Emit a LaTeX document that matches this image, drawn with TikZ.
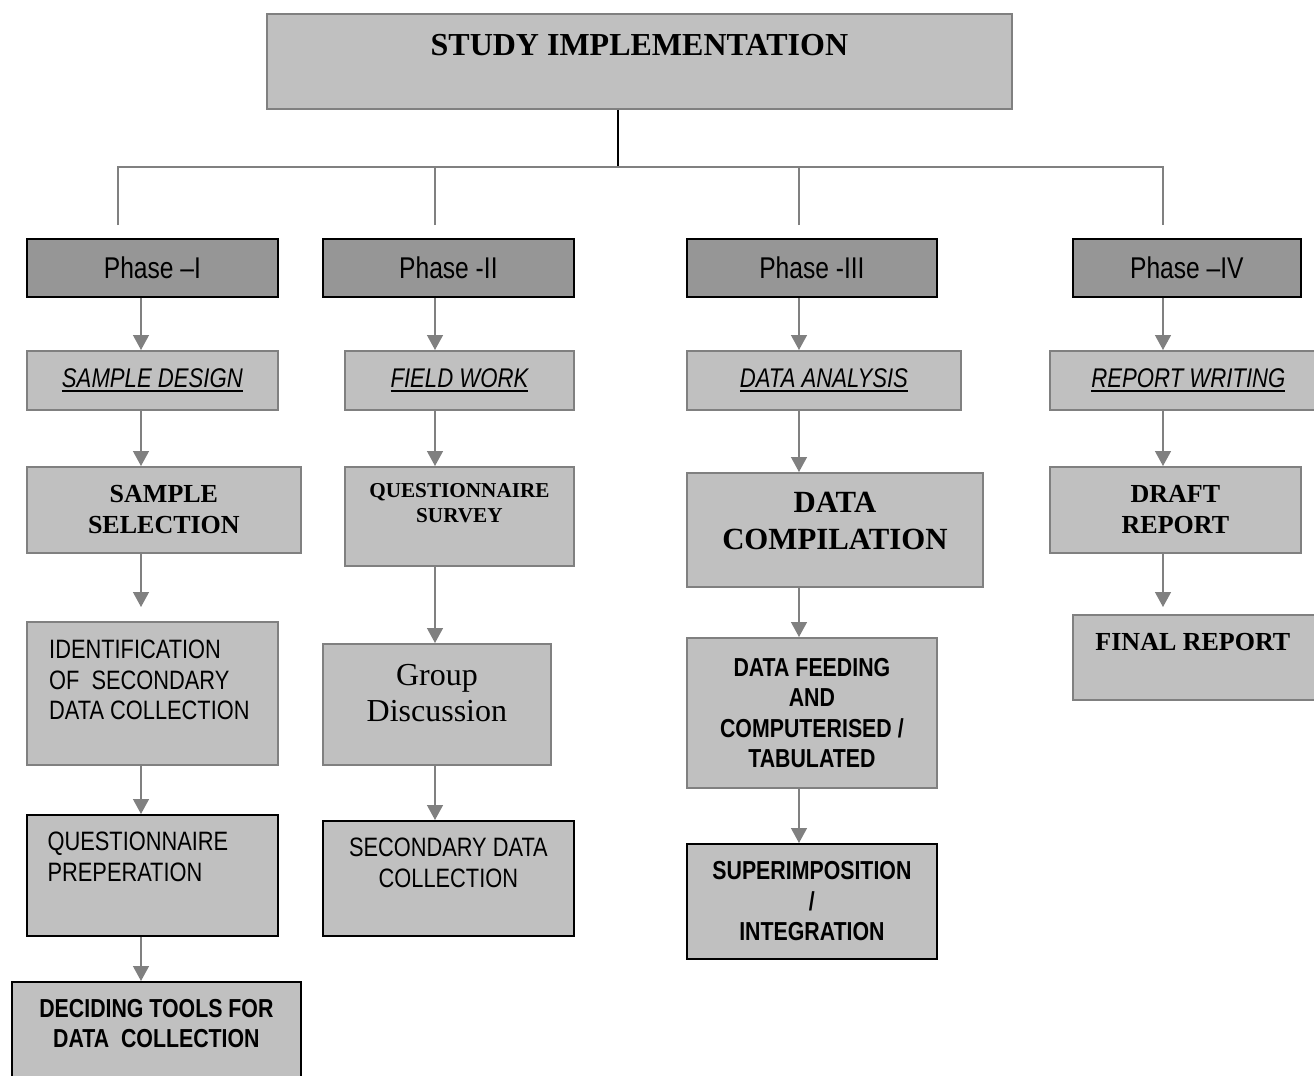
\documentclass[tikz,border=0pt]{standalone}
\usepackage{fontspec}
\setmainfont{Liberation Serif}
\newfontfamily\narrowsans{Liberation Sans}[FakeStretch=0.82]
\usepackage{tikz}
\usetikzlibrary{arrows.meta}
\usepackage{xcolor}
\definecolor{boxgrey}{HTML}{C0C0C0}
\definecolor{phasegrey}{HTML}{969696}
\definecolor{linegrey}{HTML}{808080}
% thick underline for the headings
\newcommand{\ulhead}[1]{\setbox0\hbox{#1}\vtop{\copy0\kern1.3pt\hrule height 1.2pt width \wd0}}

\begin{document}
\begin{tikzpicture}[
  x=0.5pt, y=-0.5pt,
  box/.style={draw=linegrey, line width=0.9pt, fill=boxgrey, inner sep=0pt, anchor=north west},
  darkbox/.style={box, draw=black},
  phasebox/.style={box, draw=black, fill=phasegrey, minimum height=29pt, font=\narrowsans\fontsize{15}{18}\selectfont},
  headbox/.style={box, minimum height=29.5pt, font=\narrowsans\itshape\fontsize{13.5}{16}\selectfont},
  titletxt/.style={font=\bfseries\fontsize{16}{19}\selectfont},
  boldserif/.style={font=\bfseries\fontsize{13}{15.5}\selectfont, align=center},
  smallserif/.style={font=\bfseries\fontsize{10.6}{12.5}\selectfont, align=center},
  bigserif/.style={font=\bfseries\fontsize{15.4}{18.5}\selectfont, align=center},
  plainserif/.style={font=\fontsize{16}{18}\selectfont, align=center},
  sanstxt/.style={font=\narrowsans\fontsize{13.3}{15.25}\selectfont, align=center},
  sansbold/.style={font=\narrowsans\bfseries\fontsize{13}{15.2}\selectfont, align=center},
  arr/.style={-{Triangle[length=7.5pt, width=8pt]}, draw=linegrey, line width=0.7pt},
  tree/.style={draw=linegrey, line width=0.7pt},
  stem/.style={draw=black, line width=0.7pt}
]
\useasboundingbox (0,0) rectangle (1314,1076);

% top box
\node[box, minimum width=372.5pt, minimum height=47.5pt,
  label={[titletxt, yshift=8.25pt]center:STUDY IMPLEMENTATION}] (title) at (266,13) {};

% phases
\node[phasebox, minimum width=125.5pt] (ph1) at (26,238) {Phase –I};
\node[phasebox, minimum width=125.5pt] (ph2) at (322,238) {Phase -II};
\node[phasebox, minimum width=125pt] (ph3) at (686,238) {Phase -III};
\node[phasebox, minimum width=114pt] (ph4) at (1072,238) {Phase –IV};

% headings
\node[headbox, minimum width=125.5pt] (sd) at (26,350) {\ulhead{SAMPLE DESIGN}};
\node[headbox, minimum width=114.5pt] (fw) at (344,350) {\ulhead{FIELD WORK}};
\node[headbox, minimum width=137pt] (da) at (686,350) {\ulhead{DATA ANALYSIS}};
\node[headbox, minimum width=138.5pt] (rw) at (1049,350) {\ulhead{REPORT WRITING}};

% third row
\node[box, boldserif, minimum width=137pt, minimum height=43pt] (ss) at (26,466) {SAMPLE\\SELECTION};
\node[box, minimum width=114.5pt, minimum height=49.5pt,
  label={[smallserif, yshift=6.5pt]center:{QUESTIONNAIRE\\SURVEY}}] (qs) at (344,466) {};
\node[box, minimum width=148pt, minimum height=57pt,
  label={[bigserif, yshift=4.5pt]center:{DATA\\COMPILATION}}] (dc) at (686,472) {};
\node[box, boldserif, minimum width=125.5pt, minimum height=43pt] (dr) at (1049,466) {DRAFT\\REPORT};

% fourth row
\node[box, minimum width=125.5pt, minimum height=71.5pt,
  label={[sanstxt, align=left, xshift=-1.5pt, yshift=6.75pt]center:{IDENTIFICATION\\OF\ \ SECONDARY\\DATA COLLECTION}}] (id) at (26,621) {};
\node[box, minimum width=114pt, minimum height=60.5pt,
  label={[plainserif, yshift=5.5pt]center:{Group\\Discussion}}] (gd) at (322,643) {};
\node[box, sansbold, minimum width=125pt, minimum height=75pt] (df) at (686,637) {DATA FEEDING\\AND\\COMPUTERISED /\\TABULATED};
\node[box, minimum width=123pt, minimum height=42.5pt,
  label={[boldserif, xshift=-1.5pt, yshift=7.5pt]center:FINAL REPORT}] (fr) at (1072,614) {};

% fifth row
\node[darkbox, minimum width=125.5pt, minimum height=60.5pt,
  label={[sanstxt, align=left, xshift=-7.25pt, yshift=9.25pt]center:{QUESTIONNAIRE\\PREPERATION}}] (qp) at (26,814) {};
\node[darkbox, minimum width=125.5pt, minimum height=57.5pt,
  label={[sanstxt, yshift=7.75pt]center:{SECONDARY DATA\\COLLECTION}}] (sc) at (322,820) {};
\node[darkbox, sansbold, minimum width=125pt, minimum height=57.5pt] (si) at (686,843) {SUPERIMPOSITION\\/\\INTEGRATION};

% last box
\node[darkbox, minimum width=144.5pt, minimum height=55pt,
  label={[sansbold, yshift=6.75pt]center:{DECIDING TOOLS FOR\\DATA\ \ COLLECTION}}] (dt) at (11,981) {};

% tree from the top box
\coordinate (hub) at (618,167);
\coordinate (dropA) at (118,225);
\coordinate (dropB) at (435,225);
\coordinate (dropC) at (799,225);
\coordinate (dropD) at (1163,225);
\draw[stem] (title.south -| hub) -- (hub);
\draw[tree] (dropA) |- (hub) -| (dropD);
\draw[tree] (dropB) -- (dropB |- hub);
\draw[tree] (dropC) -- (dropC |- hub);

% columns of arrows
\coordinate (colA) at (141,0);
\coordinate (colB) at (435,0);
\coordinate (colC) at (799,0);
\coordinate (colD) at (1163,0);

\draw[arr] (ph1.south -| colA) -- (sd.north -| colA);
\draw[arr] (sd.south -| colA) -- (ss.north -| colA);
\draw[arr, shorten >=7pt] (ss.south -| colA) -- (id.north -| colA);
\draw[arr] (id.south -| colA) -- (qp.north -| colA);
\draw[arr] (qp.south -| colA) -- (dt.north -| colA);

\draw[arr] (ph2.south -| colB) -- (fw.north -| colB);
\draw[arr] (fw.south -| colB) -- (qs.north -| colB);
\draw[arr] (qs.south -| colB) -- (gd.north -| colB);
\draw[arr] (gd.south -| colB) -- (sc.north -| colB);

\draw[arr] (ph3.south -| colC) -- (da.north -| colC);
\draw[arr] (da.south -| colC) -- (dc.north -| colC);
\draw[arr] (dc.south -| colC) -- (df.north -| colC);
\draw[arr] (df.south -| colC) -- (si.north -| colC);

\draw[arr] (ph4.south -| colD) -- (rw.north -| colD);
\draw[arr] (rw.south -| colD) -- (dr.north -| colD);
\draw[arr, shorten >=3.5pt] (dr.south -| colD) -- (fr.north -| colD);
\end{tikzpicture}
\end{document}
